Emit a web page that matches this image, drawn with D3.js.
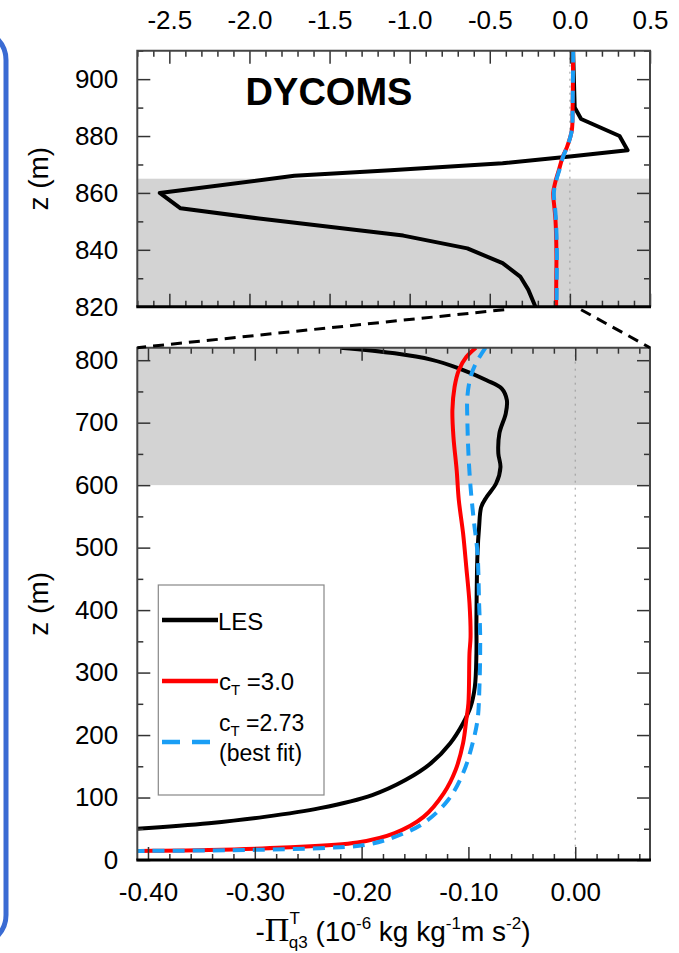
<!DOCTYPE html>
<html>
<head>
<meta charset="utf-8">
<script src="https://cdn.jsdelivr.net/npm/d3@7"></script>
<style>
  body { margin: 0; background: #fff; }
  svg text { font-family: "Liberation Sans", Arial, Helvetica, sans-serif; fill: #000; }
</style>
</head>
<body>
<svg id="chart" width="679" height="953"></svg>
<script>
// ---- data ----
// upper panel, 820-910 m
const lesTopZ = [910, 890, 886, 880, 875, 872.8, 870.4, 868, 866, 860, 854.6, 851, 845, 840.5, 835.3, 830.6, 826, 820];
const lesTopV = [0.02, 0.03, 0.07, 0.31, 0.36, 0.0, -0.42, -1.12, -1.72, -2.56, -2.43, -1.94, -1.04, -0.64, -0.42, -0.31, -0.26, -0.215];
const ct30TopZ = [910, 890, 882, 876.3, 872.8, 868, 864, 860, 855, 850.5, 838.8, 830, 820];
const ct30TopV = [0.02, 0.017, 0.012, -0.017, -0.044, -0.069, -0.09, -0.104, -0.097, -0.09, -0.084, -0.085, -0.086];
const ct273TopZ = [910, 890, 882, 876.3, 872.8, 868, 864, 860, 855, 850.5, 838.8, 830, 820];
const ct273TopV = [0.02, 0.017, 0.012, -0.016, -0.042, -0.066, -0.087, -0.1, -0.093, -0.087, -0.081, -0.082, -0.083];

// lower panel, 0-820 m
const lesZ = [820, 811, 801, 787, 768, 755, 736, 715, 683, 651, 629, 603, 581, 565, 533, 491, 384, 331, 277, 245, 219, 187, 155, 128, 104, 83, 69, 59, 50, 47];
const lesV = [-0.22, -0.169, -0.135, -0.109, -0.083, -0.069, -0.064, -0.065, -0.071, -0.072, -0.07, -0.074, -0.083, -0.088, -0.09, -0.0915, -0.0925, -0.0925, -0.094, -0.098, -0.105, -0.117, -0.135, -0.159, -0.19, -0.239, -0.291, -0.343, -0.411, -0.44];
const ct30Z = [820, 805, 784, 757, 720, 677, 624, 576, 523, 469, 411, 357, 331, 251, 224, 187, 144, 107, 69, 43, 28, 20, 16, 14.4, 14];
const ct30V = [-0.093, -0.102, -0.109, -0.113, -0.115, -0.114, -0.111, -0.109, -0.105, -0.102, -0.099, -0.098, -0.099, -0.1, -0.102, -0.105, -0.112, -0.123, -0.142, -0.169, -0.204, -0.273, -0.343, -0.411, -0.43];
const ct273Z = [820, 795, 773, 741, 704, 651, 597, 544, 491, 411, 357, 277, 224, 181, 139, 96, 59, 37, 24, 19, 16, 14.4, 14];
const ct273V = [-0.084, -0.093, -0.098, -0.101, -0.101, -0.1, -0.098, -0.095, -0.0915, -0.09, -0.089, -0.0897, -0.0915, -0.097, -0.105, -0.119, -0.142, -0.169, -0.197, -0.239, -0.308, -0.411, -0.43];

// shaded cloud layer
const cloudTop = [820, 865];
const cloudBot = [600, 820];

// axes
const xTopDomain = [-2.7, 0.5];
const yTopDomain = [820, 910];
const xBotDomain = [-0.41, 0.07];
const yBotDomain = [0, 820];
const xTopTicks = [-2.5, -2.0, -1.5, -1.0, -0.5, 0.0, 0.5];
const yTopTicks = [820, 840, 860, 880, 900];
const xBotTicks = [-0.4, -0.3, -0.2, -0.1, 0.0];
const yBotTicks = [0, 100, 200, 300, 400, 500, 600, 700, 800];

const legendLabels = ["LES", "3.0", "2.73"];
const seriesColors = ["#000", "#ff0000", "#1a9ef5"];

addEventListener("load", init);

function init() {
    const svg = d3.select("#chart");
    const left = 137.3, right = 650;

    let xTop = d3.scaleLinear(xTopDomain, [left, right]);
    let yTop = d3.scaleLinear(yTopDomain, [306.7, 50.7]);
    let xBot = d3.scaleLinear(xBotDomain, [left, right]);
    let yBot = d3.scaleLinear(yBotDomain, [860, 347.7]);

    // blue frame at the left edge
    svg.append("rect")
        .attr("x", -300).attr("y", 30).attr("width", 306).attr("height", 915)
        .attr("rx", 30).attr("fill", "none")
        .attr("stroke", "#3a6bd3").attr("stroke-width", 5);

    function panel(x, y, cloud, id) {
        let g = svg.append("g");
        let [x0, x1] = x.range(), [y1, y0] = y.range();
        svg.append("clipPath").attr("id", id)
            .append("rect").attr("x", x0).attr("y", y0).attr("width", x1 - x0).attr("height", y1 - y0);
        g.append("rect")
            .attr("x", x0).attr("width", x1 - x0)
            .attr("y", y(cloud[1])).attr("height", y(cloud[0]) - y(cloud[1]))
            .attr("fill", "#d3d3d3");
        g.append("line")
            .attr("x1", x(0)).attr("x2", x(0)).attr("y1", y0).attr("y2", y1)
            .attr("stroke", "#999").attr("stroke-width", 1).attr("stroke-dasharray", "2,5");
        return g;
    }

    function curve(g, x, y, zs, vs, color, width, dash, smooth, id) {
        let line = d3.line()
            .x(d => x(d[1])).y(d => y(d[0]))
            .curve(smooth ? d3.curveCatmullRom.alpha(0.5) : d3.curveLinear);
        g.append("path")
            .attr("d", line(d3.zip(zs, vs)))
            .attr("clip-path", "url(#" + id + ")")
            .attr("fill", "none").attr("stroke", color)
            .attr("stroke-width", width)
            .attr("stroke-linejoin", "round")
            .attr("stroke-dasharray", dash);
    }

    function axes(x, y, xMajor, xMinor, yMajor, yMinor, xFmt, labelsTop) {
        let [x0, x1] = x.range(), [y1, y0] = y.range();
        let add = (axis, tx, ty, show) => {
            let g = svg.append("g").attr("transform", `translate(${tx},${ty})`).call(axis);
            g.select(".domain").remove();
            g.selectAll(".tick line").attr("stroke", "#333").attr("stroke-width", 1.5);
            g.selectAll(".tick text")
                .attr("font-size", 26).attr("font-family", null).attr("fill", "#000")
                .style("display", show ? null : "none");
        };
        // major + minor ticks on all four sides, pointing inward
        add(d3.axisTop(x).tickValues(xMajor).tickSize(-13).tickPadding(22).tickFormat(xFmt), 0, y0, labelsTop);
        add(d3.axisTop(x).tickValues(xMinor).tickSize(-6).tickFormat(""), 0, y0, false);
        add(d3.axisBottom(x).tickValues(xMajor).tickSize(-13).tickPadding(23).tickFormat(xFmt), 0, y1, !labelsTop);
        add(d3.axisBottom(x).tickValues(xMinor).tickSize(-6).tickFormat(""), 0, y1, false);
        add(d3.axisLeft(y).tickValues(yMajor).tickSize(-13).tickPadding(19).tickFormat(d => d), x0, 0, true);
        add(d3.axisLeft(y).tickValues(yMinor).tickSize(-6).tickFormat(""), x0, 0, false);
        add(d3.axisRight(y).tickValues(yMajor).tickSize(-13).tickFormat(""), x1, 0, false);
        add(d3.axisRight(y).tickValues(yMinor).tickSize(-6).tickFormat(""), x1, 0, false);

        svg.append("path")
            .attr("d", `M${x0},${y1}V${y0}H${x1}V${y1}`)
            .attr("fill", "none").attr("stroke", "#444").attr("stroke-width", 2);
        svg.append("line")
            .attr("x1", x0 - 1).attr("x2", x1 + 1).attr("y1", y1).attr("y2", y1)
            .attr("stroke", "#000").attr("stroke-width", 3);

        svg.append("text")
            .attr("transform", `translate(48,${(y0 + y1) / 2}) rotate(-90)`)
            .attr("text-anchor", "middle").attr("font-size", 28)
            .text("z (m)");
    }

    let notMajor = (v, step) => Math.abs(v / step - Math.round(v / step)) > 1e-6;

    // ---- upper panel ----
    let gTop = panel(xTop, yTop, cloudTop, "clipTop");
    curve(gTop, xTop, yTop, lesTopZ, lesTopV, seriesColors[0], 4, null, false, "clipTop");
    curve(gTop, xTop, yTop, ct30TopZ, ct30TopV, seriesColors[1], 4, null, true, "clipTop");
    curve(gTop, xTop, yTop, ct273TopZ, ct273TopV, seriesColors[2], 4, "12,8", true, "clipTop");
    axes(xTop, yTop, xTopTicks,
        d3.range(-2.7, 0.51, 0.1).map(v => +v.toFixed(2)).filter(v => notMajor(v, 0.5)),
        yTopTicks, [830, 850, 870, 890, 910], d => d.toFixed(1), true);

    svg.append("text")
        .attr("x", 329).attr("y", 105)
        .attr("text-anchor", "middle")
        .attr("font-size", 38).attr("font-weight", "bold")
        .text("DYCOMS");

    // ---- lower panel ----
    let gBot = panel(xBot, yBot, cloudBot, "clipBot");
    curve(gBot, xBot, yBot, lesZ, lesV, seriesColors[0], 4, null, true, "clipBot");
    curve(gBot, xBot, yBot, ct30Z, ct30V, seriesColors[1], 4, null, true, "clipBot");
    curve(gBot, xBot, yBot, ct273Z, ct273V, seriesColors[2], 4, "12,8", true, "clipBot");
    axes(xBot, yBot, xBotTicks,
        d3.range(-0.40, 0.071, 0.02).map(v => +v.toFixed(3)).filter(v => notMajor(v, 0.1)),
        yBotTicks, d3.range(50, 800, 100), d => d.toFixed(2), false);

    // zoom connector lines
    let yTopBottom = yTop.range()[0], yBotTop = yBot.range()[1];
    [[xBotDomain[0], left], [xBotDomain[1], right]].forEach(([v, xb]) => {
        svg.append("line")
            .attr("x1", xTop(v)).attr("y1", yTopBottom + 3)
            .attr("x2", xb).attr("y2", yBotTop)
            .attr("stroke", "#000").attr("stroke-width", 3)
            .attr("stroke-dasharray", "11,7");
    });

    // ---- legend ----
    let lg = svg.append("g");
    lg.append("rect")
        .attr("x", 158.3).attr("y", 585).attr("width", 165.7).attr("height", 210)
        .attr("fill", "#fff").attr("stroke", "#888").attr("stroke-width", 1.2);
    let rows = [620, 681, 742];
    rows.forEach((ry, i) => {
        lg.append("line")
            .attr("x1", 162).attr("x2", 218).attr("y1", ry).attr("y2", ry)
            .attr("stroke", seriesColors[i]).attr("stroke-width", 4.5)
            .attr("stroke-dasharray", i == 2 ? "18,12" : null);
    });
    lg.append("text").attr("x", 218).attr("y", 630).attr("font-size", 24).text(legendLabels[0]);
    [[690, legendLabels[1], 24], [731, legendLabels[2], 23]].forEach(([by, lab, fs]) => {
        let t = lg.append("text").attr("x", 219).attr("y", by).attr("font-size", fs);
        t.append("tspan").text("c");
        t.append("tspan").attr("font-size", 15).attr("dy", 5).text("T");
        t.append("tspan").attr("dy", -5).text(" =" + lab);
    });
    lg.append("text").attr("x", 219).attr("y", 761).attr("font-size", 23).text("(best fit)");

    // ---- x axis title ----
    let tt = svg.append("text")
        .attr("x", 393).attr("y", 941)
        .attr("text-anchor", "middle").attr("font-size", 28);
    tt.append("tspan").text("-");
    tt.append("tspan").attr("font-family", "'Liberation Serif', 'Times New Roman', serif").attr("font-size", 34).text("\u03A0");
    tt.append("tspan").attr("font-size", 17).attr("dy", -17).text("T");
    tt.append("tspan").attr("font-size", 17).attr("dx", -11).attr("dy", 24).text("q3");
    tt.append("tspan").attr("dy", -7).text(" (10");
    tt.append("tspan").attr("font-size", 17).attr("dy", -12).text("-6");
    tt.append("tspan").attr("dy", 12).text(" kg kg");
    tt.append("tspan").attr("font-size", 17).attr("dy", -12).text("-1");
    tt.append("tspan").attr("dy", 12).text("m s");
    tt.append("tspan").attr("font-size", 17).attr("dy", -12).text("-2");
    tt.append("tspan").attr("dy", 12).text(")");
}
</script>
</body>
</html>
